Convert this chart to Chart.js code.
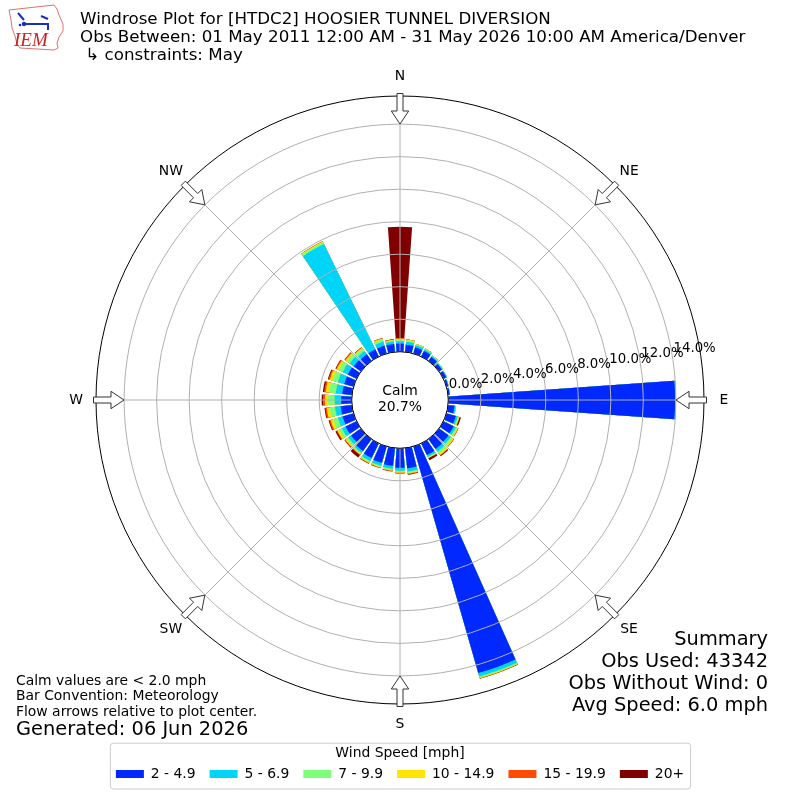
<!DOCTYPE html>
<html>
<head>
<meta charset="utf-8">
<script src="https://cdn.jsdelivr.net/npm/chart.js@4.4.1/dist/chart.umd.min.js"></script>
<style>
html,body{margin:0;padding:0;background:#fff;}
#wrap{width:800px;height:800px;position:relative;}
</style>
</head>
<body>
<div id="wrap"><canvas id="c" width="800" height="800"></canvas></div>
<script>
// ---- categories ----
const directions = [0,10,20,30,40,50,60,70,80,90,100,110,120,130,140,150,160,170,
                    180,190,200,210,220,230,240,250,260,270,280,290,300,310,320,330,340,350];
const compassLabels = ['N','NE','E','SE','S','SW','W','NW'];
const compassAngles = [0,45,90,135,180,225,270,315];
const speedBins = ['2 - 4.9','5 - 6.9','7 - 9.9','10 - 14.9','15 - 19.9','20+'];
const binColors = ['#0028ff','#00d4f8','#7dff7a','#ffe600','#ff4a00','#800000'];

// ---- series values (percent of observations, per direction) ----
const spd2to5  = [0.50,0.45,0.40,0.38,0.30,0.22,0.20,0.12,0.10,13.95,0.40,0.60,0.70,0.72,0.75,0.80,14.50,1.25,
                  1.20,1.10,1.05,1.00,0.90,0.75,0.75,0.70,0.70,0.65,0.60,0.60,0.60,0.55,0.50,0.50,0.50,0.50];
const spd5to7  = [0.15,0.18,0.13,0.10,0.07,0.05,0.04,0.03,0.02,0.05,0.07,0.12,0.15,0.17,0.20,0.12,0.22,0.20,
                  0.18,0.18,0.18,0.20,0.15,0.20,0.25,0.30,0.35,0.40,0.40,0.40,0.35,0.30,0.25,7.20,0.25,0.15];
const spd7to10 = [0.10,0.10,0.07,0.05,0.04,0.03,0.01,0.00,0.00,0.00,0.03,0.07,0.10,0.12,0.15,0.06,0.07,0.08,
                  0.08,0.08,0.08,0.10,0.08,0.15,0.20,0.30,0.33,0.40,0.42,0.35,0.28,0.23,0.18,0.13,0.17,0.08];
const spd10to15= [0.05,0.04,0.02,0.02,0.01,0.00,0.00,0.00,0.00,0.00,0.00,0.04,0.06,0.10,0.12,0.03,0.04,0.05,
                  0.04,0.04,0.05,0.05,0.05,0.08,0.12,0.17,0.18,0.20,0.20,0.17,0.13,0.10,0.07,0.05,0.05,0.03];
const spd15to20= [0.04,0.01,0.00,0.00,0.00,0.00,0.00,0.00,0.00,0.00,0.00,0.02,0.02,0.03,0.03,0.02,0.015,0.04,
                  0.03,0.03,0.02,0.03,0.05,0.04,0.05,0.08,0.09,0.12,0.10,0.08,0.06,0.05,0.03,0.01,0.02,0.01];
const spd20plus= [6.85,0.00,0.00,0.00,0.00,0.00,0.00,0.00,0.00,0.00,0.00,0.08,0.01,0.01,0.05,0.12,0.015,0.03,
                  0.02,0.02,0.02,0.02,0.17,0.03,0.08,0.05,0.05,0.08,0.08,0.05,0.03,0.02,0.02,0.00,0.01,0.03];

// ---- radial axis ----
const tickValues = [0,2,4,6,8,10,12,14];
const rMin = -2.97;
const rMax = 15.73;
const calmPct = 20.7;

// ---- texts ----
const titleLines = [
  'Windrose Plot for [HTDC2] HOOSIER TUNNEL DIVERSION',
  'Obs Between: 01 May 2011 12:00 AM - 31 May 2026 10:00 AM America/Denver',
  ' \u21B3 constraints: May'
];
const noteLines = ['Calm values are < 2.0 mph','Bar Convention: Meteorology','Flow arrows relative to plot center.'];
const generatedLine = 'Generated: 06 Jun 2026';
const summaryLines = ['Summary','Obs Used: 43342','Obs Without Wind: 0','Avg Speed: 6.0 mph'];

// ---- build stacked (cumulative) series for the polar area chart ----
const binValues = [spd2to5, spd5to7, spd7to10, spd10to15, spd15to20, spd20plus];
const cumulative = [];
let running = directions.map(() => 0);
binValues.forEach(arr => { running = running.map((v, i) => v + arr[i]); cumulative.push(running.slice()); });
const barAngle = 8;            // degrees covered by each bar
const gapAngle = 10 - barAngle; // white gap between bars
const toArcs = vals => vals.flatMap(v => [v, 0]);
const arcLabels = directions.flatMap(d => [d + '\u00B0', '']);

const FONT = 'DejaVu Sans';

function drawText(ctx, s, x, y, size, align, baseline, color) {
  ctx.font = size + 'px "' + FONT + '"';
  ctx.textAlign = align || 'left';
  ctx.textBaseline = baseline || 'middle';
  ctx.fillStyle = color || '#000';
  ctx.fillText(s, x, y);
}

const decorPlugin = {
  id: 'decor',
  afterDatasetsDraw(chart) {
    const s = chart.scales.r, ctx = chart.ctx;
    const cx = s.xCenter, cy = s.yCenter, R = s.drawingArea;
    ctx.save();
    ctx.strokeStyle = '#b0b0b0';
    ctx.lineWidth = 1;
    compassAngles.forEach(d => {
      const a = d * Math.PI / 180;
      ctx.beginPath();
      ctx.moveTo(cx, cy);
      ctx.lineTo(cx + R * Math.sin(a), cy - R * Math.cos(a));
      ctx.stroke();
    });
    ctx.restore();
  },
  afterDraw(chart) {
    const s = chart.scales.r, ctx = chart.ctx;
    const cx = s.xCenter, cy = s.yCenter, R = s.drawingArea;
    ctx.save();
    // calm circle
    const r0 = s.getDistanceFromCenterForValue(0);
    ctx.beginPath();
    ctx.arc(cx, cy, r0, 0, Math.PI * 2);
    ctx.fillStyle = '#fff';
    ctx.fill();
    ctx.strokeStyle = '#000';
    ctx.lineWidth = 1;
    ctx.stroke();
    drawText(ctx, 'Calm', cx, cy - 9, 13.9, 'center');
    drawText(ctx, calmPct.toFixed(1) + '%', cx, cy + 7.5, 13.9, 'center');

    // radial tick labels
    const la = 9 * Math.PI / 180;
    tickValues.forEach(v => {
      const rr = s.getDistanceFromCenterForValue(v);
      drawText(ctx, v.toFixed(1) + '%', cx + rr * Math.cos(la) + 1, cy - rr * Math.sin(la) - 4.5, 13.3, 'left', 'alphabetic');
    });

    // flow arrows & compass labels
    compassAngles.forEach((d, i) => {
      const a = d * Math.PI / 180;
      const ux = Math.sin(a), uy = -Math.cos(a);   // outward
      const wx = Math.cos(a), wy = Math.sin(a);    // perpendicular
      const P = (r, w) => [cx + ux * r + wx * w, cy + uy * r + wy * w];
      const tip = R - 28, base = R - 15, end = R + 2.5;
      const pts = [P(tip, 0), P(base, 8.7), P(base, 3), P(end, 3), P(end, -3), P(base, -3), P(base, -8.7)];
      ctx.beginPath();
      ctx.moveTo(pts[0][0], pts[0][1]);
      for (let k = 1; k < pts.length; k++) ctx.lineTo(pts[k][0], pts[k][1]);
      ctx.closePath();
      ctx.fillStyle = '#fff';
      ctx.fill();
      ctx.strokeStyle = '#333';
      ctx.lineWidth = 1;
      ctx.stroke();
      const lr = R + 20;
      drawText(ctx, compassLabels[i], cx + ux * lr, cy + uy * lr, 13.9, 'center');
    });

    // titles
    titleLines.forEach((t, i) => drawText(ctx, t, 80, 20 + i * 17.6, 16.7, 'left'));

    // notes bottom-left
    noteLines.forEach((t, i) => drawText(ctx, t, 16, 681 + i * 15.6, 13.9, 'left'));
    drawText(ctx, generatedLine, 16, 730, 19.4, 'left');

    // summary bottom-right
    summaryLines.forEach((t, i) => drawText(ctx, t, 768, 640 + i * 22, 19.4, 'right'));

    // IEM logo (simplified)
    ctx.beginPath();
    const iowa = [[9,10],[54,5],[57,9],[59,15],[63,24],[63,31],[59,37],[57,43],[58,48],[54,50],[20,48],[17,44],[15,36],[12,28],[11,20]];
    ctx.moveTo(iowa[0][0], iowa[0][1]);
    iowa.slice(1).forEach(p => ctx.lineTo(p[0], p[1]));
    ctx.closePath();
    ctx.fillStyle = '#fff'; ctx.fill();
    ctx.strokeStyle = '#e07070'; ctx.lineWidth = 1; ctx.stroke();
    ctx.strokeStyle = '#1a2fc0'; ctx.lineWidth = 2;
    ctx.beginPath(); ctx.moveTo(22, 24); ctx.lineTo(49, 24); ctx.stroke();
    ctx.beginPath(); ctx.moveTo(18, 13); ctx.lineTo(24, 20); ctx.stroke();
    ctx.beginPath(); ctx.moveTo(41, 16); ctx.lineTo(48, 19); ctx.stroke();
    ctx.beginPath(); ctx.moveTo(48, 24); ctx.lineTo(48, 30); ctx.stroke();
    ctx.fillStyle = '#1a2fc0';
    ctx.beginPath(); ctx.arc(24, 24, 2.2, 0, Math.PI * 2); ctx.fill();
    ctx.beginPath(); ctx.arc(20, 25, 1.3, 0, Math.PI * 2); ctx.fill();
    ctx.font = 'italic 19px "Liberation Serif"';
    ctx.textAlign = 'left'; ctx.textBaseline = 'alphabetic';
    ctx.fillStyle = '#d02020';
    ctx.fillText('IEM', 14, 46);

    // legend frame
    const lg = chart.legend;
    if (lg && lg.legendHitBoxes && lg.legendHitBoxes.length) {
      const hb = lg.legendHitBoxes;
      const left = hb[0].left - 6;
      const last = hb[hb.length - 1];
      const right = last.left + last.width + 6;
      const top = lg.top + 38.7;
      const bottom = 788.5;
      ctx.beginPath();
      if (ctx.roundRect) ctx.roundRect(left + 0.5, top + 0.5, right - left, bottom - top, 3);
      else ctx.rect(left + 0.5, top + 0.5, right - left, bottom - top);
      ctx.strokeStyle = '#cccccc';
      ctx.lineWidth = 1;
      ctx.stroke();
    }
    ctx.restore();
  }
};

new Chart(document.getElementById('c'), {
  type: 'polarArea',
  data: {
    labels: arcLabels,
    datasets: cumulative.map((vals, k) => ({
      label: speedBins[k],
      data: toArcs(vals),
      backgroundColor: ctx => (ctx.dataIndex % 2 === 0 ? binColors[k] : 'rgba(0,0,0,0)'),
      borderWidth: 0,
      angle: ctx => (ctx.dataIndex % 2 === 0 ? barAngle : gapAngle),
      order: k
    }))
  },
  options: {
    responsive: false,
    animation: false,
    events: [],
    layout: { padding: { top: 96, bottom: 9.05, left: 0, right: 0 } },
    scales: {
      r: {
        min: rMin,
        max: rMax,
        startAngle: -barAngle / 2,
        ticks: { display: false },
        afterBuildTicks: sc => { sc.ticks = tickValues.concat([rMax]).map(v => ({ value: v })); },
        grid: {
          circular: true,
          z: 1,
          color: c => (c.tick && c.tick.value === rMax ? '#000' : '#b0b0b0'),
          lineWidth: 1
        },
        angleLines: { display: false },
        pointLabels: { display: false }
      }
    },
    plugins: {
      tooltip: { enabled: false },
      legend: {
        position: 'bottom',
        labels: {
          boxWidth: 28,
          boxHeight: 8,
          padding: 14,
          color: '#000',
          font: { family: FONT, size: 13.9 },
          generateLabels: () => speedBins.map((t, i) => ({
            text: t, fillStyle: binColors[i], strokeStyle: binColors[i], lineWidth: 0,
            hidden: false, datasetIndex: i, fontColor: '#000'
          }))
        },
        title: {
          display: true,
          text: 'Wind Speed [mph]',
          color: '#000',
          font: { family: FONT, size: 13.9 },
          padding: { top: 42.05, bottom: -9.68 }
        }
      }
    }
  },
  plugins: [decorPlugin]
});
</script>
</body>
</html>
